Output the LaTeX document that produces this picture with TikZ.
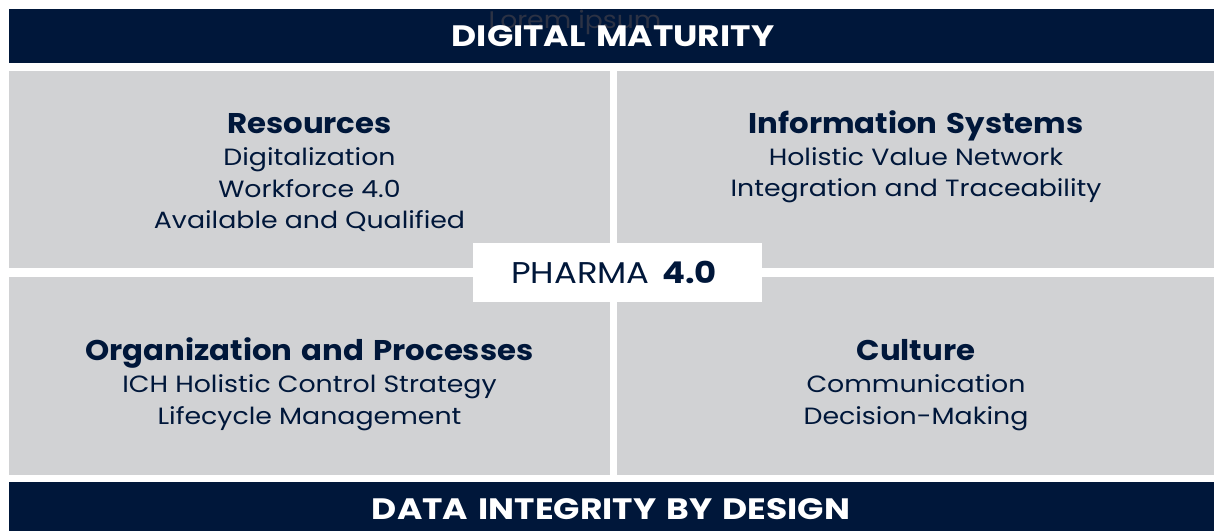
\documentclass[tikz,border=0pt]{standalone}
\usepackage{fontspec}
\setmainfont{Poppins}
\newfontfamily\itemfont{Poppins}[FakeStretch=1.14]
\newfontfamily\titlefont{Poppins}[FakeStretch=1.08,WordSpace=1.4]
\newfontfamily\bannerfont{Poppins}[FakeStretch=1.17,WordSpace=1.4]
\newfontfamily\pharmafont{Poppins}[FakeStretch=1.13,WordSpace=1.4]
\newfontfamily\ghostfont{Poppins}[FakeStretch=1.11]
\definecolor{navy}{HTML}{00173A}
\definecolor{panel}{HTML}{D1D2D4}
\definecolor{ghost}{HTML}{2C3244}
\begin{document}
\begin{tikzpicture}[x=1pt,y=-1pt,
  banner/.style={fill=navy,draw=none},
  panelbox/.style={fill=panel,draw=none},
  bannertext/.style={text=white,font=\bannerfont\fontsize{29.5}{32}\selectfont\bfseries,anchor=base,inner sep=0},
  title/.style={text=navy,font=\titlefont\fontsize{28.5}{31}\selectfont\bfseries,anchor=base,inner sep=0},
  item/.style={text=navy,font=\itemfont\fontsize{23.5}{26}\selectfont,anchor=base,inner sep=0}]
\useasboundingbox (0,0) rectangle (1214,531);
\fill[white] (0,0) rectangle (1214,531);
% banners
\fill[banner] (9,9) rectangle (1214,63);
\fill[banner] (9,482) rectangle (1214,531);
\node[text=ghost,font=\ghostfont\fontsize{24}{26}\selectfont,anchor=base,inner sep=0] (ghost) at (575,28) {Lorem ipsum};
\node[bannertext] (top) at (613,46.5) {DIGITAL MATURITY};
\node[bannertext] (bottom) at (611,519.5) {DATA INTEGRITY BY DESIGN};
% panels
\fill[panelbox] (9,71) rectangle (610,268);
\fill[panelbox] (617,71) rectangle (1214,268);
\fill[panelbox] (9,277) rectangle (610,475);
\fill[panelbox] (617,277) rectangle (1214,475);
% center
\fill[white] (473,243) rectangle (762,302);
\node[text=navy,font=\pharmafont\fontsize{30}{32}\selectfont,anchor=base,inner sep=0] (pharma) at (614,283.3) {PHARMA \textbf{4.0}};
% resources
\node[title] (rt) at (309.5,133.3) {Resources};
\node[item] (r1) at (309.5,165.3) {Digitalization};
\node[item] (r2) at (309.5,197) {Workforce 4.0};
\node[item] (r3) at (309.5,228.5) {Available and Qualified};
% information systems
\node[title] (it) at (916,133.3) {Information Systems};
\node[item] (i1) at (916,165.3) {Holistic Value Network};
\node[item] (i2) at (916,196.8) {Integration and Traceability};
% organization
\node[title] (ot) at (309.5,360) {Organization and Processes};
\node[item] (o1) at (309.5,392) {ICH Holistic Control Strategy};
\node[item] (o2) at (309.5,424) {Lifecycle Management};
% culture
\node[title] (ct) at (916,360) {Culture};
\node[item] (c1) at (916,392) {Communication};
\node[item] (c2) at (916,424) {Decision-Making};
\end{tikzpicture}
\end{document}
